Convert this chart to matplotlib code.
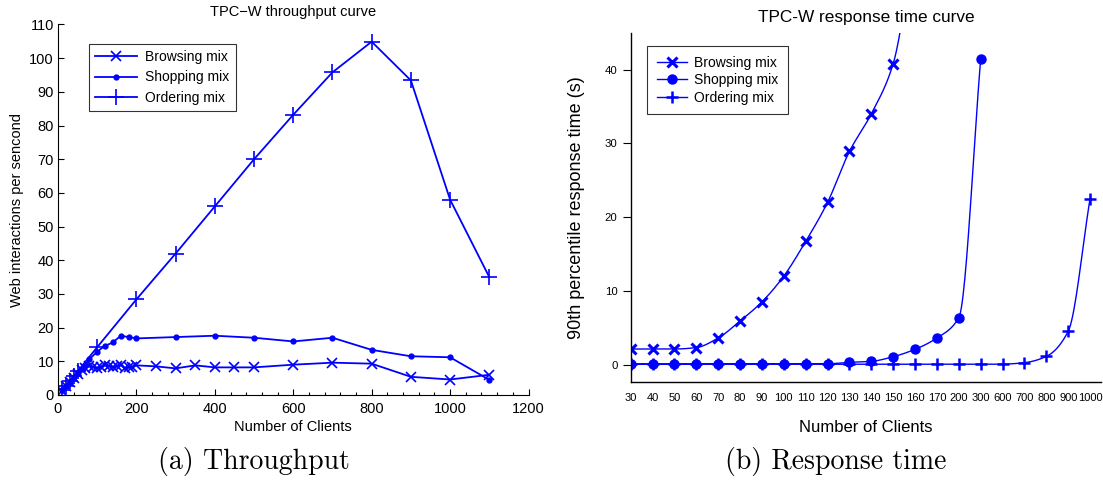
import numpy as np
import matplotlib
matplotlib.use('Agg')
import matplotlib.pyplot as plt
from matplotlib.ticker import MultipleLocator

plt.rcParams['font.family'] = ['Liberation Sans', 'DejaVu Sans']

# ---------------- throughput data (interactions/s vs clients) ----------------
brw_x = [10, 20, 30, 40, 50, 60, 70, 80, 90, 100, 110, 120, 130, 140, 150, 160,
         170, 180, 190, 200, 250, 300, 350, 400, 450, 500, 600, 700, 800, 900,
         1000, 1100]
brw_y = [1.2, 2.6, 3.8, 5.0, 6.2, 7.3, 8.0, 8.6, 8.3, 8.0, 8.4, 8.8, 8.6, 8.2,
         8.5, 8.9, 8.0, 8.2, 8.4, 8.8, 8.5, 7.9, 8.8, 8.2, 8.2, 8.2, 9.0, 9.6,
         9.3, 5.4, 4.6, 6.0]

shp_x = [10, 20, 30, 40, 50, 60, 70, 80, 100, 120, 140, 160, 180, 200, 300, 400,
         500, 600, 700, 800, 900, 1000, 1100]
shp_y = [1.5, 2.8, 4.0, 5.3, 6.5, 7.8, 9.0, 10.6, 12.9, 14.6, 15.6, 17.6, 17.2,
         16.8, 17.2, 17.6, 17.0, 15.9, 17.0, 13.4, 11.5, 11.2, 4.5]

ord_x = [10, 20, 30, 40, 50, 100, 200, 300, 400, 500, 600, 700, 800, 900, 1000, 1100]
ord_y = [1.4, 2.8, 4.2, 5.6, 7.0, 14.2, 28.4, 42.0, 56.0, 70.0, 83.2, 95.8,
         104.9, 93.4, 58.0, 35.0]

# ---------------- response time data (90th percentile, s) ----------------
clients = ['30', '40', '50', '60', '70', '80', '90', '100', '110', '120', '130',
           '140', '150', '160', '170', '200', '300', '600', '700', '800', '900',
           '1000']

rt_brw_c = ['30', '40', '50', '60', '70', '80', '90', '100', '110', '120', '130',
            '140', '150', '160']
rt_brw = [2.1, 2.1, 2.1, 2.3, 3.6, 5.9, 8.5, 12.0, 16.7, 22.0, 28.9, 34.0, 40.8, 58.0]

rt_shp_c = ['30', '40', '50', '60', '70', '80', '90', '100', '110', '120', '130',
            '140', '150', '160', '170', '200', '300']
rt_shp = [0.1, 0.1, 0.1, 0.1, 0.1, 0.1, 0.1, 0.1, 0.1, 0.1, 0.3, 0.43, 1.06,
          2.06, 3.6, 6.35, 41.4]

rt_ord_c = clients
rt_ord = [0.03, 0.03, 0.03, 0.03, 0.03, 0.03, 0.03, 0.03, 0.03, 0.03, 0.03, 0.03,
          0.03, 0.03, 0.03, 0.03, 0.03, 0.05, 0.25, 1.1, 4.5, 22.5]

BLUE = '#0000ff'


def pchip(x, y, xs):
    # monotone cubic (Fritsch-Carlson) through the given points
    x = np.asarray(x, float)
    y = np.asarray(y, float)
    h = np.diff(x)
    d = np.diff(y) / h
    m = np.zeros_like(y)
    m[0], m[-1] = d[0], d[-1]
    for k in range(1, len(x) - 1):
        if d[k - 1] * d[k] > 0:
            w1 = 2 * h[k] + h[k - 1]
            w2 = h[k] + 2 * h[k - 1]
            m[k] = (w1 + w2) / (w1 / d[k - 1] + w2 / d[k])
    idx = np.clip(np.searchsorted(x, xs) - 1, 0, len(x) - 2)
    t = (xs - x[idx]) / h[idx]
    h00 = 2 * t**3 - 3 * t**2 + 1
    h10 = t**3 - 2 * t**2 + t
    h01 = -2 * t**3 + 3 * t**2
    h11 = t**3 - t**2
    return (h00 * y[idx] + h10 * h[idx] * m[idx] + h01 * y[idx + 1]
            + h11 * h[idx] * m[idx + 1])


W, H = 1103, 482
fig = plt.figure(figsize=(W / 100, H / 100), dpi=100)


def px_axes(left, top, right, bottom):
    return fig.add_axes([left / W, 1 - bottom / H, (right - left) / W, (bottom - top) / H])


# ================= (a) throughput =================
ax1 = px_axes(58, 24.5, 528.5, 395)
fs1 = 10.5
ax1.plot(brw_x, brw_y, color=BLUE, lw=1.3, marker='x', ms=7, mew=1.2, label='Browsing mix')
ax1.plot(shp_x, shp_y, color=BLUE, lw=1.3, marker='.', ms=7, label='Shopping mix')
ax1.plot(ord_x, ord_y, color=BLUE, lw=1.3, marker='+', ms=11, mew=1.2, label='Ordering mix')

ax1.set_xlim(0, 1200)
ax1.set_ylim(0, 110)
ax1.xaxis.set_major_locator(MultipleLocator(200))
ax1.xaxis.set_minor_locator(MultipleLocator(40))
ax1.yaxis.set_major_locator(MultipleLocator(10))
ax1.tick_params(which='both', direction='in', labelsize=fs1, width=0.8)
ax1.tick_params(which='major', length=4.5)
ax1.tick_params(which='minor', length=2.5)
ax1.tick_params(axis='x', pad=5)
ax1.tick_params(axis='y', pad=3)
for s in ['top', 'right']:
    ax1.spines[s].set_visible(False)
for s in ['left', 'bottom']:
    ax1.spines[s].set_linewidth(0.8)

ax1.set_title('TPC\u2212W throughput curve', fontsize=fs1, pad=6)
ax1.set_xlabel('Number of Clients', fontsize=fs1, labelpad=3)
ax1.set_ylabel('Web interactions per sencond', fontsize=fs1, labelpad=4)

leg1 = ax1.legend(loc='upper left', bbox_to_anchor=(89 / W, 1 - 44 / H),
                  bbox_transform=fig.transFigure, borderaxespad=0,
                  fontsize=10, fancybox=False, edgecolor='black',
                  handlelength=3.0, labelspacing=0.45, borderpad=0.45,
                  handletextpad=0.6)
leg1.get_frame().set_linewidth(0.8)

# ================= (b) response time =================
ax2 = px_axes(630.7, 32.7, 1101, 382)
xi = {c: i for i, c in enumerate(clients)}

series = [
    (rt_brw_c, rt_brw, 'x', 7.5, 2.2, 'Browsing mix'),
    (rt_shp_c, rt_shp, 'o', 6.5, 1.0, 'Shopping mix'),
    (rt_ord_c, rt_ord, '+', 8, 1.8, 'Ordering mix'),
]
for cats, vals, mk, ms, mew, lab in series:
    xp = np.array([xi[c] for c in cats], float)
    xs = np.linspace(xp[0], xp[-1], 400)
    ax2.plot(xs, pchip(xp, vals, xs), color=BLUE, lw=1.0)
    ax2.plot(xp, vals, ls='none', marker=mk, ms=ms, mew=mew, color=BLUE)
    ax2.plot([], [], color=BLUE, lw=1.0, marker=mk, ms=ms, mew=mew, label=lab)

ax2.set_xlim(0, 21.5)
ax2.set_ylim(-2.37, 45)
ax2.set_xticks(range(len(clients)))
ax2.set_xticklabels(clients)
ax2.set_yticks([0, 10, 20, 30, 40])
ax2.tick_params(axis='x', length=0, labelsize=8, pad=8)
ax2.tick_params(axis='y', direction='out', length=5.5, labelsize=8.2, pad=4)
for s in ['top', 'right']:
    ax2.spines[s].set_visible(False)
for s in ['left', 'bottom']:
    ax2.spines[s].set_linewidth(1.0)

ax2.set_title('TPC-W response time curve', fontsize=12.4, pad=8)
ax2.set_xlabel('Number of Clients', fontsize=12, labelpad=12)
ax2.set_ylabel('90th percentile response time (s)', fontsize=13, labelpad=14)

leg2 = ax2.legend(loc='upper left', bbox_to_anchor=(647 / W, 1 - 46 / H),
                  bbox_transform=fig.transFigure, borderaxespad=0,
                  fontsize=10, fancybox=False, edgecolor='black',
                  handlelength=2.2, labelspacing=0.25, borderpad=0.7,
                  handletextpad=0.5)
leg2.get_frame().set_linewidth(0.8)

# sub-captions
fig.text(254 / W, 1 - 462 / H, '(a) Throughput', family='cmr10', fontsize=20,
         ha='center', va='center')
fig.text(836 / W, 1 - 462 / H, '(b) Response time', family='cmr10', fontsize=20,
         ha='center', va='center')

fig.savefig('out.png', dpi=100)
